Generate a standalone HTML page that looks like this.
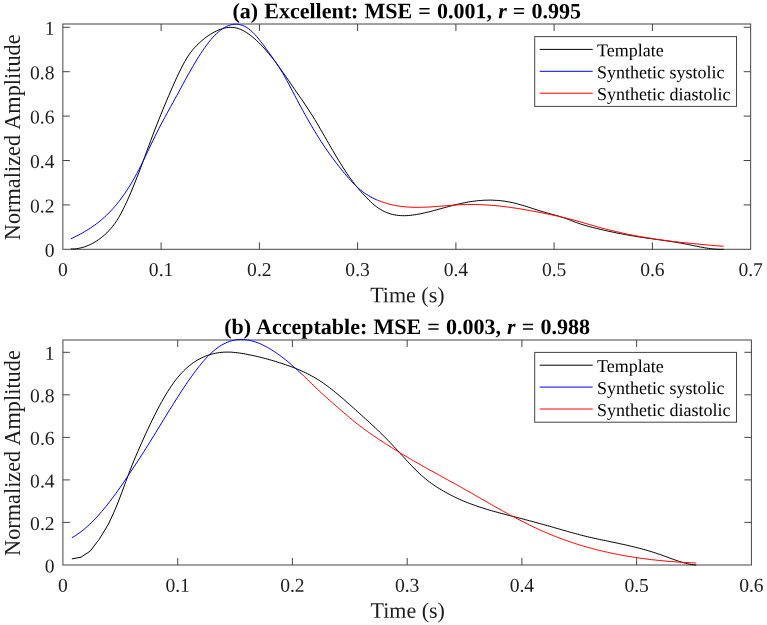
<!DOCTYPE html>
<html>
<head>
<meta charset="utf-8">
<title>Pulse template fit quality</title>
<style>
html, body { margin: 0; padding: 0; background: #fff; }
body { width: 767px; height: 625px; overflow: hidden; }
svg { display: block; will-change: transform; }
text { font-family: "Liberation Serif", serif; fill: #1c1c1c; }
.tk { font-size: 19.6px; }
.lb { font-size: 22px; }
.yl { font-size: 22.3px; word-spacing: 0.8px; }
.tt { font-size: 22px; word-spacing: 0.65px; font-weight: bold; fill: #000; }
.lg { font-size: 18px; fill: #000; }
</style>
</head>
<body>
<svg width="767" height="625" viewBox="0 0 767 625">
<rect x="0" y="0" width="767" height="625" fill="#fff"/>
<g id="panel-a">
<rect x="62.85" y="24.0" width="687.8" height="225.3" fill="none" stroke="#454545" stroke-width="1.0"/>
<text transform="translate(62.85,276.05) rotate(0.03)" text-anchor="middle" class="tk">0</text>
<text transform="translate(161.11,276.05) rotate(0.03)" text-anchor="middle" class="tk">0.1</text>
<text transform="translate(259.36,276.05) rotate(0.03)" text-anchor="middle" class="tk">0.2</text>
<text transform="translate(357.62,276.05) rotate(0.03)" text-anchor="middle" class="tk">0.3</text>
<text transform="translate(455.88,276.05) rotate(0.03)" text-anchor="middle" class="tk">0.4</text>
<text transform="translate(554.14,276.05) rotate(0.03)" text-anchor="middle" class="tk">0.5</text>
<text transform="translate(652.39,276.05) rotate(0.03)" text-anchor="middle" class="tk">0.6</text>
<text transform="translate(750.65,276.05) rotate(0.03)" text-anchor="middle" class="tk">0.7</text>
<text transform="translate(54.55,256.85) rotate(0.03)" text-anchor="end" class="tk">0</text>
<text transform="translate(54.55,212.44) rotate(0.03)" text-anchor="end" class="tk">0.2</text>
<text transform="translate(54.55,168.03) rotate(0.03)" text-anchor="end" class="tk">0.4</text>
<text transform="translate(54.55,123.62) rotate(0.03)" text-anchor="end" class="tk">0.6</text>
<text transform="translate(54.55,79.21) rotate(0.03)" text-anchor="end" class="tk">0.8</text>
<text transform="translate(54.55,34.80) rotate(0.03)" text-anchor="end" class="tk">1</text>
<path d="M161.1,249.35 v-7 M161.1,24.0 v7 M259.4,249.35 v-7 M259.4,24.0 v7 M357.6,249.35 v-7 M357.6,24.0 v7 M455.9,249.35 v-7 M455.9,24.0 v7 M554.1,249.35 v-7 M554.1,24.0 v7 M652.4,249.35 v-7 M652.4,24.0 v7 M62.85,204.9 h7 M750.65,204.9 h-7 M62.85,160.5 h7 M750.65,160.5 h-7 M62.85,116.1 h7 M750.65,116.1 h-7 M62.85,71.7 h7 M750.65,71.7 h-7 M62.85,27.3 h7 M750.65,27.3 h-7" fill="none" stroke="#454545" stroke-width="1.0"/>
<path d="M70.8,248.9 L72.8,249.0 L74.8,248.9 L76.8,248.7 L78.8,248.3 L80.8,247.9 L82.8,247.4 L84.8,246.8 L86.8,246.0 L88.8,245.2 L90.8,244.3 L92.8,243.2 L94.8,242.1 L96.8,240.8 L98.8,239.5 L100.8,238.0 L102.8,236.4 L104.8,234.7 L106.8,232.9 L108.8,230.8 L110.8,228.6 L112.8,226.2 L114.8,223.5 L116.8,220.5 L118.8,217.3 L120.8,213.8 L122.8,210.0 L124.8,205.9 L126.8,201.7 L128.8,197.2 L130.8,192.6 L132.8,187.8 L134.8,182.9 L136.8,177.8 L138.8,172.7 L140.8,167.4 L142.8,162.0 L144.8,156.6 L146.8,151.2 L148.8,145.8 L150.8,140.4 L152.8,135.1 L154.8,129.9 L156.8,124.7 L158.8,119.7 L160.8,114.7 L162.8,109.8 L164.8,105.0 L166.8,100.2 L168.8,95.5 L170.8,90.9 L172.8,86.3 L174.8,81.8 L176.8,77.4 L178.8,73.2 L180.8,69.1 L182.8,65.2 L184.8,61.5 L186.8,58.1 L188.8,55.0 L190.8,52.2 L192.8,49.7 L194.8,47.4 L196.8,45.3 L198.8,43.4 L200.8,41.6 L202.8,39.9 L204.8,38.2 L206.8,36.7 L208.8,35.3 L210.8,34.1 L212.8,32.9 L214.8,31.8 L216.8,30.8 L218.8,29.9 L220.8,29.2 L222.8,28.5 L224.8,28.0 L226.8,27.7 L228.8,27.4 L230.8,27.4 L232.8,27.4 L234.8,27.7 L236.8,28.1 L238.8,28.7 L240.8,29.5 L242.8,30.4 L244.8,31.5 L246.8,32.8 L248.8,34.1 L250.8,35.6 L252.8,37.2 L254.8,38.9 L256.8,40.8 L258.8,42.7 L260.8,44.7 L262.8,46.8 L264.8,49.0 L266.8,51.3 L268.8,53.7 L270.8,56.1 L272.8,58.6 L274.8,61.2 L276.8,63.9 L278.8,66.6 L280.8,69.4 L282.8,72.2 L284.8,75.0 L286.8,77.9 L288.8,80.8 L290.8,83.8 L292.8,86.7 L294.8,89.6 L296.8,92.5 L298.8,95.4 L300.8,98.2 L302.8,101.1 L304.8,104.1 L306.8,107.1 L308.8,110.1 L310.8,113.2 L312.8,116.3 L314.8,119.6 L316.8,122.9 L318.8,126.3 L320.8,129.8 L322.8,133.2 L324.8,136.7 L326.8,140.2 L328.8,143.7 L330.8,147.1 L332.8,150.6 L334.8,154.0 L336.8,157.4 L338.8,160.7 L340.8,163.9 L342.8,167.1 L344.8,170.2 L346.8,173.3 L348.8,176.2 L350.8,179.0 L352.8,181.7 L354.8,184.4 L356.8,186.8 L358.8,189.2 L360.8,191.5 L362.8,193.7 L364.8,195.8 L366.8,197.9 L368.8,200.0 L370.8,201.9 L372.8,203.8 L374.8,205.4 L376.8,207.0 L378.8,208.4 L380.8,209.6 L382.8,210.8 L384.8,211.7 L386.8,212.6 L388.8,213.3 L390.8,214.0 L392.8,214.5 L394.8,214.9 L396.8,215.2 L398.8,215.5 L400.8,215.6 L402.8,215.7 L404.8,215.7 L406.8,215.6 L408.8,215.5 L410.8,215.3 L412.8,215.0 L414.8,214.8 L416.8,214.4 L418.8,214.1 L420.8,213.7 L422.8,213.3 L424.8,212.8 L426.8,212.3 L428.8,211.9 L430.8,211.4 L432.8,210.8 L434.8,210.3 L436.8,209.8 L438.8,209.2 L440.8,208.7 L442.8,208.1 L444.8,207.6 L446.8,207.0 L448.8,206.5 L450.8,206.0 L452.8,205.4 L454.8,204.9 L456.8,204.4 L458.8,204.0 L460.8,203.5 L462.8,203.1 L464.8,202.7 L466.8,202.3 L468.8,201.9 L470.8,201.6 L472.8,201.3 L474.8,201.1 L476.8,200.8 L478.8,200.6 L480.8,200.5 L482.8,200.3 L484.8,200.2 L486.8,200.2 L488.8,200.1 L490.8,200.1 L492.8,200.2 L494.8,200.3 L496.8,200.4 L498.8,200.5 L500.8,200.7 L502.8,201.0 L504.8,201.2 L506.8,201.6 L508.8,201.9 L510.8,202.3 L512.8,202.7 L514.8,203.2 L516.8,203.7 L518.8,204.3 L520.8,204.8 L522.8,205.4 L524.8,206.0 L526.8,206.6 L528.8,207.3 L530.8,207.9 L532.8,208.6 L534.8,209.2 L536.8,209.8 L538.8,210.5 L540.8,211.1 L542.8,211.7 L544.8,212.3 L546.8,212.9 L548.8,213.4 L550.8,214.0 L552.8,214.5 L554.8,215.1 L556.8,215.6 L558.8,216.2 L560.8,216.8 L562.8,217.5 L564.8,218.1 L566.8,218.8 L568.8,219.6 L570.8,220.4 L572.8,221.2 L574.8,222.0 L576.8,222.7 L578.8,223.4 L580.8,224.1 L582.8,224.7 L584.8,225.3 L586.8,225.9 L588.8,226.5 L590.8,227.0 L592.8,227.5 L594.8,228.0 L596.8,228.5 L598.8,229.0 L600.8,229.5 L602.8,229.9 L604.8,230.4 L606.8,230.8 L608.8,231.3 L610.8,231.7 L612.8,232.1 L614.8,232.5 L616.8,233.0 L618.8,233.4 L620.8,233.7 L622.8,234.1 L624.8,234.5 L626.8,234.9 L628.8,235.2 L630.8,235.6 L632.8,235.9 L634.8,236.2 L636.8,236.6 L638.8,236.9 L640.8,237.2 L642.8,237.5 L644.8,237.8 L646.8,238.1 L648.8,238.4 L650.8,238.6 L652.8,238.9 L654.8,239.2 L656.8,239.5 L658.8,239.7 L660.8,240.0 L662.8,240.3 L664.8,240.6 L666.8,240.9 L668.8,241.2 L670.8,241.5 L672.8,241.8 L674.8,242.1 L676.8,242.4 L678.8,242.8 L680.8,243.1 L682.8,243.5 L684.8,243.9 L686.8,244.2 L688.8,244.6 L690.8,245.1 L692.8,245.5 L694.8,245.9 L696.8,246.3 L698.8,246.7 L700.8,247.1 L702.8,247.4 L704.8,247.8 L706.8,248.1 L708.8,248.4 L710.8,248.7 L712.8,248.9 L714.8,249.1 L716.8,249.2 L718.8,249.3 L720.8,249.4 L722.8,249.3 L723.7,249.3" fill="none" stroke="#000" stroke-width="1.0" stroke-linejoin="round"/>
<path d="M70.8,238.9 L72.8,237.9 L74.8,236.9 L76.8,235.9 L78.8,234.9 L80.8,233.8 L82.8,232.7 L84.8,231.5 L86.8,230.3 L88.8,229.1 L90.8,227.8 L92.8,226.4 L94.8,225.0 L96.8,223.5 L98.8,222.0 L100.8,220.4 L102.8,218.6 L104.8,216.8 L106.8,215.0 L108.8,213.0 L110.8,210.9 L112.8,208.7 L114.8,206.5 L116.8,204.1 L118.8,201.6 L120.8,199.0 L122.8,196.2 L124.8,193.4 L126.8,190.4 L128.8,187.3 L130.8,184.1 L132.8,180.7 L134.8,177.2 L136.8,173.5 L138.8,169.7 L140.8,165.8 L142.8,161.7 L144.8,157.6 L146.8,153.4 L148.8,149.2 L150.8,145.0 L152.8,140.8 L154.8,136.7 L156.8,132.7 L158.8,128.7 L160.8,124.9 L162.8,121.1 L164.8,117.4 L166.8,113.7 L168.8,110.1 L170.8,106.4 L172.8,102.8 L174.8,99.1 L176.8,95.5 L178.8,91.8 L180.8,88.1 L182.8,84.4 L184.8,80.7 L186.8,77.1 L188.8,73.5 L190.8,70.0 L192.8,66.5 L194.8,63.1 L196.8,59.8 L198.8,56.6 L200.8,53.4 L202.8,50.4 L204.8,47.5 L206.8,44.8 L208.8,42.2 L210.8,39.7 L212.8,37.4 L214.8,35.3 L216.8,33.4 L218.8,31.6 L220.8,30.0 L222.8,28.6 L224.8,27.4 L226.8,26.3 L228.8,25.5 L230.8,24.9 L232.8,24.4 L234.8,24.2 L236.8,24.2 L238.8,24.4 L240.8,24.9 L242.8,25.5 L244.8,26.4 L246.8,27.5 L248.8,28.9 L250.8,30.5 L252.8,32.4 L254.8,34.4 L256.8,36.7 L258.8,39.1 L260.8,41.6 L262.8,44.2 L264.8,46.9 L266.8,49.7 L268.8,52.4 L270.8,55.2 L272.8,58.0 L274.8,60.9 L276.8,63.9 L278.8,66.9 L280.8,70.1 L282.8,73.4 L284.8,76.9 L286.8,80.5 L288.8,84.2 L290.8,88.0 L292.8,91.8 L294.8,95.6 L296.8,99.4 L298.8,103.2 L300.8,106.9 L302.8,110.5 L304.8,114.2 L306.8,117.7 L308.8,121.2 L310.8,124.7 L312.8,128.1 L314.8,131.4 L316.8,134.7 L318.8,137.9 L320.8,141.1 L322.8,144.1 L324.8,147.1 L326.8,150.0 L328.8,152.9 L330.8,155.7 L332.8,158.4 L334.8,161.1 L336.8,163.7 L338.8,166.2 L340.8,168.8 L342.8,171.3 L344.8,173.7 L346.8,176.1 L348.8,178.4 L350.8,180.6 L352.8,182.8 L354.8,184.8 L356.8,186.8 L358.8,188.6 L360.8,190.3 L362.8,191.8 L364.8,193.3 L366.8,194.6 L368.8,195.8 L370.8,197.0 L372.8,198.0 L374.8,199.0 L376.8,199.9 L377.1,200.0" fill="none" stroke="#00f" stroke-width="1.0" stroke-linejoin="round"/>
<path d="M377.1,200.0 L379.1,200.8 L381.1,201.6 L383.1,202.3 L385.1,202.9 L387.1,203.5 L389.1,204.1 L391.1,204.6 L393.1,205.0 L395.1,205.4 L397.1,205.8 L399.1,206.1 L401.1,206.4 L403.1,206.6 L405.1,206.8 L407.1,207.0 L409.1,207.1 L411.1,207.2 L413.1,207.3 L415.1,207.3 L417.1,207.3 L419.1,207.3 L421.1,207.3 L423.1,207.2 L425.1,207.2 L427.1,207.1 L429.1,207.0 L431.1,206.9 L433.1,206.7 L435.1,206.6 L437.1,206.4 L439.1,206.3 L441.1,206.1 L443.1,206.0 L445.1,205.8 L447.1,205.7 L449.1,205.5 L451.1,205.4 L453.1,205.2 L455.1,205.1 L457.1,204.9 L459.1,204.8 L461.1,204.7 L463.1,204.6 L465.1,204.6 L467.1,204.5 L469.1,204.5 L471.1,204.5 L473.1,204.5 L475.1,204.5 L477.1,204.6 L479.1,204.6 L481.1,204.7 L483.1,204.8 L485.1,204.9 L487.1,205.0 L489.1,205.1 L491.1,205.3 L493.1,205.5 L495.1,205.6 L497.1,205.8 L499.1,206.0 L501.1,206.3 L503.1,206.5 L505.1,206.7 L507.1,207.0 L509.1,207.2 L511.1,207.5 L513.1,207.8 L515.1,208.1 L517.1,208.4 L519.1,208.7 L521.1,209.0 L523.1,209.4 L525.1,209.7 L527.1,210.1 L529.1,210.4 L531.1,210.8 L533.1,211.2 L535.1,211.5 L537.1,211.9 L539.1,212.3 L541.1,212.7 L543.1,213.1 L545.1,213.5 L547.1,213.9 L549.1,214.3 L551.1,214.7 L553.1,215.2 L555.1,215.6 L557.1,216.0 L559.1,216.5 L561.1,216.9 L563.1,217.4 L565.1,217.9 L567.1,218.4 L569.1,218.9 L571.1,219.4 L573.1,219.9 L575.1,220.4 L577.1,221.0 L579.1,221.6 L581.1,222.1 L583.1,222.7 L585.1,223.3 L587.1,223.9 L589.1,224.5 L591.1,225.1 L593.1,225.6 L595.1,226.2 L597.1,226.8 L599.1,227.3 L601.1,227.9 L603.1,228.4 L605.1,228.9 L607.1,229.4 L609.1,230.0 L611.1,230.4 L613.1,230.9 L615.1,231.4 L617.1,231.9 L619.1,232.3 L621.1,232.8 L623.1,233.2 L625.1,233.7 L627.1,234.1 L629.1,234.5 L631.1,234.9 L633.1,235.3 L635.1,235.7 L637.1,236.0 L639.1,236.4 L641.1,236.8 L643.1,237.1 L645.1,237.4 L647.1,237.8 L649.1,238.1 L651.1,238.4 L653.1,238.7 L655.1,239.0 L657.1,239.3 L659.1,239.6 L661.1,239.9 L663.1,240.2 L665.1,240.4 L667.1,240.7 L669.1,241.0 L671.1,241.2 L673.1,241.5 L675.1,241.7 L677.1,241.9 L679.1,242.2 L681.1,242.4 L683.1,242.6 L685.1,242.8 L687.1,243.0 L689.1,243.2 L691.1,243.4 L693.1,243.6 L695.1,243.8 L697.1,244.0 L699.1,244.2 L701.1,244.4 L703.1,244.6 L705.1,244.8 L707.1,244.9 L709.1,245.1 L711.1,245.3 L713.1,245.4 L715.1,245.6 L717.1,245.8 L719.1,245.9 L721.1,246.1 L723.1,246.2 L723.7,246.3" fill="none" stroke="#f00" stroke-width="1.0" stroke-linejoin="round"/>
<text transform="translate(407.35,302.25) rotate(0.03)" text-anchor="middle" class="lb">Time (s)</text>
<text transform="translate(19.6,137.3) rotate(-90)" text-anchor="middle" class="lb yl">Normalized Amplitude</text>
<text transform="translate(406.75,18.30) rotate(0.03)" text-anchor="middle" class="tt">(a) Excellent: MSE = 0.001, <tspan font-style="italic">r</tspan> = 0.995</text>
<rect x="534.7" y="36.6" width="201.8" height="69.8" fill="#fff" stroke="#454545" stroke-width="1.0"/>
<path d="M539.7,49.4 h53" stroke="#000" stroke-width="1.0"/>
<text transform="translate(597.10,56.30) rotate(0.03)" class="lg">Template</text>
<path d="M539.7,71.3 h53" stroke="#00f" stroke-width="1.0"/>
<text transform="translate(597.10,78.20) rotate(0.03)" class="lg">Synthetic systolic</text>
<path d="M539.7,93.2 h53" stroke="#f00" stroke-width="1.0"/>
<text transform="translate(597.10,100.10) rotate(0.03)" class="lg">Synthetic diastolic</text>
</g>
<g id="panel-b">
<rect x="62.9" y="340.0" width="688.5" height="225.0" fill="none" stroke="#454545" stroke-width="1.0"/>
<text transform="translate(62.90,591.65) rotate(0.03)" text-anchor="middle" class="tk">0</text>
<text transform="translate(177.65,591.65) rotate(0.03)" text-anchor="middle" class="tk">0.1</text>
<text transform="translate(292.40,591.65) rotate(0.03)" text-anchor="middle" class="tk">0.2</text>
<text transform="translate(407.15,591.65) rotate(0.03)" text-anchor="middle" class="tk">0.3</text>
<text transform="translate(521.90,591.65) rotate(0.03)" text-anchor="middle" class="tk">0.4</text>
<text transform="translate(636.65,591.65) rotate(0.03)" text-anchor="middle" class="tk">0.5</text>
<text transform="translate(751.40,591.65) rotate(0.03)" text-anchor="middle" class="tk">0.6</text>
<text transform="translate(54.60,572.45) rotate(0.03)" text-anchor="end" class="tk">0</text>
<text transform="translate(54.60,529.92) rotate(0.03)" text-anchor="end" class="tk">0.2</text>
<text transform="translate(54.60,487.39) rotate(0.03)" text-anchor="end" class="tk">0.4</text>
<text transform="translate(54.60,444.86) rotate(0.03)" text-anchor="end" class="tk">0.6</text>
<text transform="translate(54.60,402.33) rotate(0.03)" text-anchor="end" class="tk">0.8</text>
<text transform="translate(54.60,359.80) rotate(0.03)" text-anchor="end" class="tk">1</text>
<path d="M177.7,564.95 v-7 M177.7,340.0 v7 M292.4,564.95 v-7 M292.4,340.0 v7 M407.2,564.95 v-7 M407.2,340.0 v7 M521.9,564.95 v-7 M521.9,340.0 v7 M636.6,564.95 v-7 M636.6,340.0 v7 M62.9,522.4 h7 M751.4,522.4 h-7 M62.9,479.9 h7 M751.4,479.9 h-7 M62.9,437.4 h7 M751.4,437.4 h-7 M62.9,394.8 h7 M751.4,394.8 h-7 M62.9,352.3 h7 M751.4,352.3 h-7" fill="none" stroke="#454545" stroke-width="1.0"/>
<path d="M71.8,558.9 L81.0,557.2 L90.1,551.2 L99.3,539.2 L108.5,524.0 L113.8,512.5 L115.8,507.9 L117.8,503.0 L119.8,497.8 L121.8,492.5 L123.8,487.1 L125.8,481.7 L127.8,476.3 L129.8,471.0 L131.8,465.9 L133.8,460.9 L135.8,456.2 L137.8,451.5 L139.8,447.0 L141.8,442.5 L143.8,438.0 L145.8,433.6 L147.8,429.3 L149.8,425.1 L151.8,420.9 L153.8,416.9 L155.8,412.9 L157.8,409.0 L159.8,405.2 L161.8,401.6 L163.8,398.1 L165.8,394.7 L167.8,391.4 L169.8,388.3 L171.8,385.3 L173.8,382.5 L175.8,379.8 L177.8,377.3 L179.8,375.0 L181.8,372.8 L183.8,370.7 L185.8,368.8 L187.8,367.0 L189.8,365.3 L191.8,363.8 L193.8,362.4 L195.8,361.1 L197.8,359.9 L199.8,358.8 L201.8,357.8 L203.8,356.9 L205.8,356.0 L207.8,355.3 L209.8,354.7 L211.8,354.1 L213.8,353.6 L215.8,353.2 L217.8,352.8 L219.8,352.6 L221.8,352.3 L223.8,352.2 L225.8,352.1 L227.8,352.1 L229.8,352.1 L231.8,352.2 L233.8,352.4 L235.8,352.6 L237.8,352.8 L239.8,353.1 L241.8,353.4 L243.8,353.7 L245.8,354.1 L247.8,354.5 L249.8,354.9 L251.8,355.3 L253.8,355.7 L255.8,356.2 L257.8,356.6 L259.8,357.1 L261.8,357.6 L263.8,358.1 L265.8,358.7 L267.8,359.2 L269.8,359.8 L271.8,360.3 L273.8,360.9 L275.8,361.5 L277.8,362.2 L279.8,362.8 L281.8,363.4 L283.8,364.1 L285.8,364.8 L287.8,365.5 L289.8,366.2 L291.8,366.9 L293.8,367.7 L295.8,368.5 L297.8,369.3 L299.8,370.1 L301.8,371.0 L303.8,371.9 L305.8,372.9 L307.8,373.9 L309.8,374.9 L311.8,376.0 L313.8,377.1 L315.8,378.3 L317.8,379.5 L319.8,380.8 L321.8,382.1 L323.8,383.5 L325.8,384.9 L327.8,386.4 L329.8,387.9 L331.8,389.4 L333.8,391.0 L335.8,392.7 L337.8,394.3 L339.8,396.0 L341.8,397.7 L343.8,399.4 L345.8,401.2 L347.8,403.0 L349.8,404.7 L351.8,406.5 L353.8,408.3 L355.8,410.1 L357.8,411.9 L359.8,413.7 L361.8,415.5 L363.8,417.3 L365.8,419.1 L367.8,420.9 L369.8,422.8 L371.8,424.6 L373.8,426.5 L375.8,428.3 L377.8,430.2 L379.8,432.2 L381.8,434.1 L383.8,436.1 L385.8,438.1 L387.8,440.2 L389.8,442.2 L391.8,444.3 L393.8,446.5 L395.8,448.6 L397.8,450.8 L399.8,453.0 L401.8,455.2 L403.8,457.3 L405.8,459.5 L407.8,461.7 L409.8,463.8 L411.8,465.9 L413.8,468.0 L415.8,470.0 L417.8,472.0 L419.8,473.9 L421.8,475.7 L423.8,477.4 L425.8,479.1 L427.8,480.7 L429.8,482.2 L431.8,483.6 L433.8,485.0 L435.8,486.4 L437.8,487.7 L439.8,488.9 L441.8,490.1 L443.8,491.3 L445.8,492.4 L447.8,493.5 L449.8,494.6 L451.8,495.6 L453.8,496.6 L455.8,497.6 L457.8,498.5 L459.8,499.4 L461.8,500.3 L463.8,501.2 L465.8,502.0 L467.8,502.8 L469.8,503.5 L471.8,504.3 L473.8,505.0 L475.8,505.7 L477.8,506.4 L479.8,507.1 L481.8,507.7 L483.8,508.4 L485.8,509.0 L487.8,509.6 L489.8,510.2 L491.8,510.8 L493.8,511.3 L495.8,511.9 L497.8,512.4 L499.8,513.0 L501.8,513.5 L503.8,514.0 L505.8,514.6 L507.8,515.1 L509.8,515.6 L511.8,516.1 L513.8,516.6 L515.8,517.1 L517.8,517.7 L519.8,518.2 L521.8,518.7 L523.8,519.2 L525.8,519.8 L527.8,520.3 L529.8,520.8 L531.8,521.4 L533.8,521.9 L535.8,522.5 L537.8,523.0 L539.8,523.6 L541.8,524.1 L543.8,524.7 L545.8,525.2 L547.8,525.8 L549.8,526.3 L551.8,526.9 L553.8,527.5 L555.8,528.1 L557.8,528.6 L559.8,529.2 L561.8,529.8 L563.8,530.4 L565.8,530.9 L567.8,531.5 L569.8,532.1 L571.8,532.6 L573.8,533.2 L575.8,533.7 L577.8,534.2 L579.8,534.8 L581.8,535.3 L583.8,535.8 L585.8,536.3 L587.8,536.8 L589.8,537.3 L591.8,537.7 L593.8,538.2 L595.8,538.6 L597.8,539.0 L599.8,539.5 L601.8,539.9 L603.8,540.3 L605.8,540.7 L607.8,541.1 L609.8,541.6 L611.8,542.0 L613.8,542.4 L615.8,542.8 L617.8,543.2 L619.8,543.7 L621.8,544.1 L623.8,544.5 L625.8,545.0 L627.8,545.4 L629.8,545.9 L631.8,546.4 L633.8,546.9 L635.8,547.4 L637.8,547.9 L639.8,548.4 L641.8,548.9 L643.8,549.5 L645.8,550.0 L647.8,550.6 L649.8,551.2 L651.8,551.8 L653.8,552.4 L655.8,553.1 L657.8,553.8 L659.8,554.4 L661.8,555.1 L663.8,555.9 L665.8,556.6 L667.8,557.3 L669.8,558.1 L671.8,558.8 L673.8,559.5 L675.8,560.2 L677.8,560.9 L679.8,561.6 L681.8,562.2 L683.8,562.8 L685.8,563.3 L687.8,563.8 L689.8,564.2 L691.8,564.5 L693.8,564.8 L695.8,565.0 L696.2,565.0" fill="none" stroke="#000" stroke-width="1.0" stroke-linejoin="round"/>
<path d="M71.8,537.7 L73.8,536.6 L75.8,535.4 L77.8,534.0 L79.8,532.6 L81.8,531.1 L83.8,529.5 L85.8,527.8 L87.8,526.0 L89.8,524.2 L91.8,522.2 L93.8,520.2 L95.8,518.1 L97.8,516.0 L99.8,513.7 L101.8,511.4 L103.8,509.0 L105.8,506.6 L107.8,504.1 L109.8,501.5 L111.8,498.9 L113.8,496.2 L115.8,493.5 L117.8,490.7 L119.8,487.9 L121.8,485.0 L123.8,482.1 L125.8,479.1 L127.8,476.1 L129.8,473.1 L131.8,470.1 L133.8,467.1 L135.8,464.1 L137.8,461.0 L139.8,457.9 L141.8,454.8 L143.8,451.7 L145.8,448.5 L147.8,445.4 L149.8,442.2 L151.8,438.9 L153.8,435.7 L155.8,432.4 L157.8,429.2 L159.8,425.9 L161.8,422.6 L163.8,419.4 L165.8,416.1 L167.8,412.8 L169.8,409.6 L171.8,406.4 L173.8,403.2 L175.8,400.0 L177.8,396.9 L179.8,393.8 L181.8,390.7 L183.8,387.7 L185.8,384.7 L187.8,381.7 L189.8,378.9 L191.8,376.1 L193.8,373.3 L195.8,370.6 L197.8,368.0 L199.8,365.5 L201.8,363.0 L203.8,360.7 L205.8,358.5 L207.8,356.3 L209.8,354.3 L211.8,352.5 L213.8,350.7 L215.8,349.1 L217.8,347.6 L219.8,346.2 L221.8,345.0 L223.8,343.9 L225.8,342.9 L227.8,342.1 L229.8,341.3 L231.8,340.7 L233.8,340.3 L235.8,339.9 L237.8,339.6 L239.8,339.5 L241.8,339.5 L243.8,339.6 L245.8,339.8 L247.8,340.0 L249.8,340.4 L251.8,340.9 L253.8,341.5 L255.8,342.1 L257.8,342.8 L259.8,343.6 L261.8,344.5 L263.8,345.5 L265.8,346.5 L267.8,347.6 L269.8,348.8 L271.8,350.0 L273.8,351.3 L275.8,352.6 L277.8,354.0 L279.8,355.4 L281.8,356.9 L283.8,358.5 L285.8,360.0 L287.8,361.7 L289.8,363.3 L291.8,365.1 L293.8,366.8 L295.8,368.6 L297.8,370.4 L299.8,372.3 L301.7,374.0" fill="none" stroke="#00f" stroke-width="1.0" stroke-linejoin="round"/>
<path d="M301.7,374.0 L303.7,376.0 L305.7,377.9 L307.7,379.8 L309.7,381.8 L311.7,383.7 L313.7,385.7 L315.7,387.6 L317.7,389.5 L319.7,391.4 L321.7,393.3 L323.7,395.1 L325.7,396.9 L327.7,398.7 L329.7,400.5 L331.7,402.2 L333.7,404.0 L335.7,405.7 L337.7,407.5 L339.7,409.2 L341.7,410.9 L343.7,412.7 L345.7,414.4 L347.7,416.1 L349.7,417.8 L351.7,419.4 L353.7,421.1 L355.7,422.7 L357.7,424.3 L359.7,425.8 L361.7,427.3 L363.7,428.8 L365.7,430.3 L367.7,431.7 L369.7,433.1 L371.7,434.5 L373.7,435.9 L375.7,437.2 L377.7,438.6 L379.7,439.9 L381.7,441.2 L383.7,442.5 L385.7,443.8 L387.7,445.1 L389.7,446.4 L391.7,447.6 L393.7,448.9 L395.7,450.1 L397.7,451.4 L399.7,452.6 L401.7,453.8 L403.7,455.0 L405.7,456.2 L407.7,457.4 L409.7,458.6 L411.7,459.7 L413.7,460.9 L415.7,462.1 L417.7,463.2 L419.7,464.4 L421.7,465.5 L423.7,466.6 L425.7,467.7 L427.7,468.9 L429.7,470.0 L431.7,471.1 L433.7,472.2 L435.7,473.3 L437.7,474.4 L439.7,475.5 L441.7,476.6 L443.7,477.7 L445.7,478.8 L447.7,479.9 L449.7,481.0 L451.7,482.1 L453.7,483.2 L455.7,484.3 L457.7,485.4 L459.7,486.5 L461.7,487.6 L463.7,488.8 L465.7,489.9 L467.7,491.0 L469.7,492.2 L471.7,493.3 L473.7,494.5 L475.7,495.6 L477.7,496.8 L479.7,497.9 L481.7,499.1 L483.7,500.2 L485.7,501.3 L487.7,502.5 L489.7,503.6 L491.7,504.8 L493.7,505.9 L495.7,507.0 L497.7,508.1 L499.7,509.3 L501.7,510.4 L503.7,511.5 L505.7,512.6 L507.7,513.7 L509.7,514.8 L511.7,515.9 L513.7,516.9 L515.7,518.0 L517.7,519.0 L519.7,520.1 L521.7,521.1 L523.7,522.1 L525.7,523.2 L527.7,524.2 L529.7,525.1 L531.7,526.1 L533.7,527.1 L535.7,528.0 L537.7,528.9 L539.7,529.9 L541.7,530.8 L543.7,531.6 L545.7,532.5 L547.7,533.4 L549.7,534.2 L551.7,535.0 L553.7,535.8 L555.7,536.6 L557.7,537.4 L559.7,538.2 L561.7,538.9 L563.7,539.6 L565.7,540.4 L567.7,541.1 L569.7,541.7 L571.7,542.4 L573.7,543.1 L575.7,543.7 L577.7,544.4 L579.7,545.0 L581.7,545.6 L583.7,546.2 L585.7,546.8 L587.7,547.3 L589.7,547.9 L591.7,548.4 L593.7,549.0 L595.7,549.5 L597.7,550.0 L599.7,550.5 L601.7,551.0 L603.7,551.4 L605.7,551.9 L607.7,552.3 L609.7,552.8 L611.7,553.2 L613.7,553.6 L615.7,554.0 L617.7,554.4 L619.7,554.8 L621.7,555.2 L623.7,555.6 L625.7,555.9 L627.7,556.3 L629.7,556.6 L631.7,556.9 L633.7,557.2 L635.7,557.5 L637.7,557.8 L639.7,558.1 L641.7,558.4 L643.7,558.7 L645.7,558.9 L647.7,559.2 L649.7,559.4 L651.7,559.7 L653.7,559.9 L655.7,560.1 L657.7,560.3 L659.7,560.5 L661.7,560.7 L663.7,560.9 L665.7,561.1 L667.7,561.3 L669.7,561.4 L671.7,561.6 L673.7,561.7 L675.7,561.9 L677.7,562.0 L679.7,562.2 L681.7,562.3 L683.7,562.4 L685.7,562.5 L687.7,562.6 L689.7,562.7 L691.7,562.8 L693.7,562.9 L695.7,563.0 L696.2,563.0" fill="none" stroke="#f00" stroke-width="1.0" stroke-linejoin="round"/>
<text transform="translate(407.75,617.85) rotate(0.03)" text-anchor="middle" class="lb">Time (s)</text>
<text transform="translate(19.6,453.1) rotate(-90)" text-anchor="middle" class="lb yl">Normalized Amplitude</text>
<text transform="translate(407.15,334.00) rotate(0.03)" text-anchor="middle" class="tt">(b) Acceptable: MSE = 0.003, <tspan font-style="italic">r</tspan> = 0.988</text>
<rect x="534.7" y="352.4" width="201.8" height="69.8" fill="#fff" stroke="#454545" stroke-width="1.0"/>
<path d="M539.7,365.2 h53" stroke="#000" stroke-width="1.0"/>
<text transform="translate(597.10,372.10) rotate(0.03)" class="lg">Template</text>
<path d="M539.7,387.1 h53" stroke="#00f" stroke-width="1.0"/>
<text transform="translate(597.10,394.00) rotate(0.03)" class="lg">Synthetic systolic</text>
<path d="M539.7,409.0 h53" stroke="#f00" stroke-width="1.0"/>
<text transform="translate(597.10,415.90) rotate(0.03)" class="lg">Synthetic diastolic</text>
</g>
</svg>
</body>
</html>
